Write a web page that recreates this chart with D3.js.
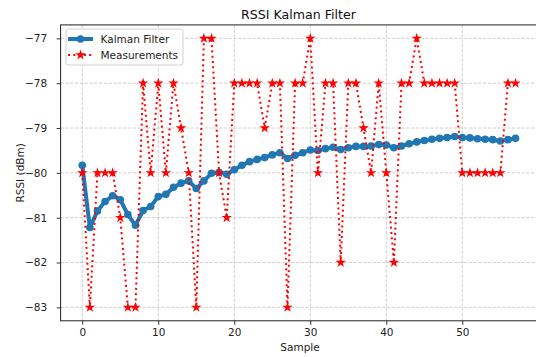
<!DOCTYPE html>
<html>
<head>
<meta charset="utf-8">
<script src="https://cdn.jsdelivr.net/npm/d3@7"></script>
<style>
    body { margin: 0; background: #fff; }
    svg { display: block; font-family: "DejaVu Sans", sans-serif; }
</style>
</head>
<body>
<div id="chart"></div>
<script>
(function() {
    // Sample indices 0..57
    var samples = d3.range(0, 58);

    // Raw RSSI readings (dBm)
    var measurements = [
        -80, -83, -80, -80, -80, -81, -83, -83, -78, -80,
        -78, -80, -78, -79, -80, -83, -77, -77, -80, -81,
        -78, -78, -78, -78, -79, -78, -78, -83, -78, -78,
        -77, -80, -78, -78, -82, -78, -78, -79, -80, -78,
        -80, -82, -78, -78, -77, -78, -78, -78, -78, -78,
        -80, -80, -80, -80, -80, -80, -78, -78
    ];

    // Filtered estimate (dBm)
    var kalman = [
        -79.83, -81.22, -80.85, -80.64, -80.51, -80.60, -80.93, -81.17, -80.84, -80.75,
        -80.53, -80.48, -80.32, -80.23, -80.18, -80.35, -80.18, -80.01, -79.99, -80.03,
        -79.93, -79.83, -79.75, -79.70, -79.66, -79.60, -79.55, -79.68, -79.61, -79.55,
        -79.49, -79.50, -79.46, -79.43, -79.48, -79.44, -79.41, -79.41, -79.40, -79.37,
        -79.38, -79.44, -79.40, -79.35, -79.31, -79.28, -79.25, -79.23, -79.21, -79.19,
        -79.21, -79.22, -79.24, -79.25, -79.26, -79.29, -79.26, -79.23
    ];

    var xTicks = [0, 10, 20, 30, 40, 50];
    var yTicks = [-83, -82, -81, -80, -79, -78, -77];

    var width = 536, height = 357;
    var plot = {left: 60.6, right: 537.2, top: 24.9, bottom: 320.8};

    var svg = d3.select("#chart").append("svg")
        .attr("width", width)
        .attr("height", height);

    // matplotlib style 5% margins around the data
    var x = d3.scaleLinear().domain([-2.85, 59.85]).range([plot.left, plot.right]);
    var y = d3.scaleLinear().domain([-83.3, -76.7]).range([plot.bottom, plot.top]);

    svg.append("clipPath").attr("id", "plotClip")
        .append("rect")
        .attr("x", plot.left).attr("y", plot.top)
        .attr("width", plot.right - plot.left)
        .attr("height", plot.bottom - plot.top);

    // Grid lines (dashed)
    var grid = svg.append("g").attr("class", "grid")
        .attr("stroke", "#b0b0b0")
        .attr("stroke-opacity", 0.75)
        .attr("stroke-width", 0.8)
        .attr("stroke-dasharray", "3.3,1.5");
    grid.selectAll("line.gx").data(xTicks).enter().append("line")
        .attr("class", "gx")
        .attr("x1", function(d) { return x(d); })
        .attr("x2", function(d) { return x(d); })
        .attr("y1", plot.top).attr("y2", plot.bottom);
    grid.selectAll("line.gy").data(yTicks).enter().append("line")
        .attr("class", "gy")
        .attr("x1", plot.left).attr("x2", plot.right)
        .attr("y1", function(d) { return y(d); })
        .attr("y2", function(d) { return y(d); });

    var marks = svg.append("g").attr("clip-path", "url(#plotClip)");

    // Kalman filter line (drawn first, sits under the measurements)
    var line = d3.line()
        .x(function(d, i) { return x(samples[i]); })
        .y(function(d) { return y(d); });

    marks.append("path")
        .datum(kalman)
        .attr("fill", "none")
        .attr("stroke", "#1f77b4")
        .attr("stroke-width", 4)
        .attr("stroke-linejoin", "round")
        .attr("d", line);

    marks.selectAll("circle.kf").data(kalman).enter().append("circle")
        .attr("class", "kf")
        .attr("cx", function(d, i) { return x(samples[i]); })
        .attr("cy", function(d) { return y(d); })
        .attr("r", 3.8)
        .attr("fill", "#1f77b4");

    // Measurements: dotted red line with star markers
    marks.append("path")
        .datum(measurements)
        .attr("fill", "none")
        .attr("stroke", "#ff0000")
        .attr("stroke-width", 2)
        .attr("stroke-dasharray", "2,3.3")
        .attr("d", line);

    var star = d3.symbol().type(d3.symbolStar).size(34);
    marks.selectAll("path.meas").data(measurements).enter().append("path")
        .attr("class", "meas")
        .attr("transform", function(d, i) {
            return "translate(" + x(samples[i]) + "," + y(d) + ")";
        })
        .attr("d", star)
        .attr("fill", "#ff0000");

    // Frame
    svg.append("rect")
        .attr("x", plot.left).attr("y", plot.top)
        .attr("width", plot.right - plot.left)
        .attr("height", plot.bottom - plot.top)
        .attr("fill", "none")
        .attr("stroke", "#222")
        .attr("stroke-width", 1);

    // Axes
    var fmt = function(d) { return d3.format("d")(d).replace("-", "\u2212"); };

    var xAxis = d3.axisBottom(x).tickValues(xTicks).tickSize(4).tickPadding(4).tickFormat(fmt);
    var yAxis = d3.axisLeft(y).tickValues(yTicks).tickSize(4).tickPadding(9.5).tickFormat(fmt);

    var gx = svg.append("g")
        .attr("transform", "translate(0," + plot.bottom + ")")
        .call(xAxis);
    var gy = svg.append("g")
        .attr("transform", "translate(" + plot.left + ",0)")
        .call(yAxis);

    [gx, gy].forEach(function(g) {
        g.select(".domain").remove();
        g.selectAll(".tick line").attr("stroke", "#222").attr("stroke-width", 0.9);
        g.selectAll(".tick text")
            .attr("fill", "#222")
            .style("font-family", "DejaVu Sans")
            .style("font-size", "10.5px");
    });

    // Labels
    svg.append("text")
        .attr("x", (plot.left + plot.right) / 2 - 0.5)
        .attr("y", 18.5)
        .attr("text-anchor", "middle")
        .style("font-size", "12.6px")
        .attr("fill", "#111")
        .text("RSSI Kalman Filter");

    svg.append("text")
        .attr("x", 300)
        .attr("y", 350.5)
        .attr("text-anchor", "middle")
        .style("font-size", "10.5px")
        .attr("fill", "#222")
        .text("Sample");

    svg.append("text")
        .attr("transform", "translate(23.5," + y(-80) + ") rotate(-90)")
        .attr("text-anchor", "middle")
        .style("font-size", "10.5px")
        .attr("fill", "#222")
        .text("RSSI (dBm)");

    // Legend
    var legend = svg.append("g").attr("transform", "translate(66,29)");
    legend.append("rect")
        .attr("width", 117).attr("height", 36)
        .attr("rx", 2.5)
        .attr("fill", "#fff").attr("fill-opacity", 0.85)
        .attr("stroke", "#cccccc").attr("stroke-width", 0.9);

    var entries = [
        {label: "Kalman Filter", kind: "kf"},
        {label: "Measurements", kind: "meas"}
    ];
    entries.forEach(function(e, i) {
        var cy = 10 + i * 16;
        if (e.kind === "kf") {
            legend.append("line")
                .attr("x1", 2).attr("x2", 27).attr("y1", cy).attr("y2", cy)
                .attr("stroke", "#1f77b4").attr("stroke-width", 4);
            legend.append("circle")
                .attr("cx", 14.5).attr("cy", cy).attr("r", 3.8)
                .attr("fill", "#1f77b4");
        } else {
            legend.append("line")
                .attr("x1", 2).attr("x2", 27).attr("y1", cy).attr("y2", cy)
                .attr("stroke", "#ff0000").attr("stroke-width", 2)
                .attr("stroke-dasharray", "2,3.3");
            legend.append("path")
                .attr("transform", "translate(14.5," + cy + ")")
                .attr("d", star)
                .attr("fill", "#ff0000");
        }
        legend.append("text")
            .attr("x", 34.5).attr("y", cy + 4)
            .style("font-size", "10.5px")
            .attr("fill", "#222")
            .text(e.label);
    });
})();
</script>
</body>
</html>
